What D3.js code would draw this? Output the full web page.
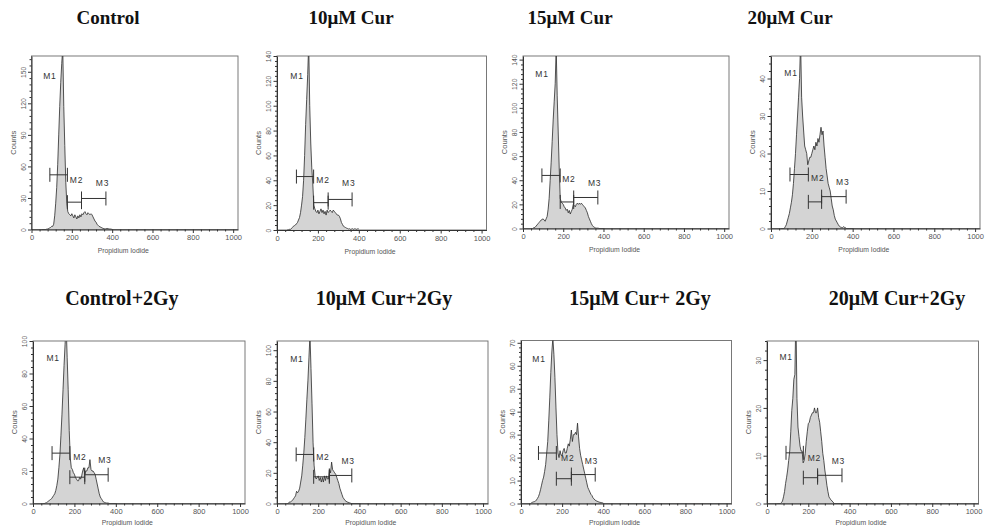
<!DOCTYPE html>
<html>
<head>
<meta charset="utf-8">
<script src="https://cdn.jsdelivr.net/npm/d3@7"></script>
<style>
  body { margin: 0; background: #fff; }
  svg { display: block; }
</style>
</head>
<body>
<svg id="chart" width="986" height="526"></svg>
<script>
// ---- data ----
const panelTitles = ["Control", "10μM Cur", "15μM Cur", "20μM Cur",
  "Control+2Gy", "10μM Cur+2Gy", "15μM Cur+ 2Gy", "20μM Cur+2Gy"];

// propidium iodide channels 50..400, step 5
const channels = d3.range(50, 405, 5);

const countsControl = [
  0, 0, 0, 0, 0, 0.3, 0.5, 1, 1.5, 2,
  3, 3, 5, 13, 25, 40, 62, 90, 117, 140,
  158, 172, 117, 80, 45, 25, 17, 15, 14, 13,
  15, 13, 11, 14, 12, 10, 13, 11, 14, 12,
  15, 14, 16, 17, 15, 14, 16, 15, 14, 15,
  14, 12, 10, 8, 7, 5, 4, 3, 2.5, 2,
  1.5, 1, 0.8, 0.5, 0.8, 1, 0.8, 0.5, 0.5, 0.3,
  0.2
];
const countsCur10 = [
  0, 0, 0.5, 0.5, 1, 2, 3, 3.5, 4, 5,
  6, 8, 10, 14, 20, 27, 40, 60, 85, 105,
  125, 150, 100, 70, 50, 37, 20, 17, 15, 14,
  16, 13, 15, 17, 14, 16, 13, 15, 12, 16,
  14, 15, 16, 15, 14, 16, 15, 14, 13, 12,
  12, 11, 9, 6, 4.5, 3, 2.5, 2, 1.5, 1.2,
  0.8, 1, 0.5, 0.8, 1, 0.5, 1, 0.8, 0.5, 1,
  0.8
];
const countsCur15 = [
  0.5, 0.5, 1, 2, 3, 4, 5, 6, 7, 7.5,
  8, 7, 6, 8, 10, 16, 25, 40, 55, 72,
  90, 105, 120, 150, 110, 80, 50, 25, 22, 21,
  20, 18, 17, 15, 16, 13, 15, 12, 14, 16,
  20, 19, 18, 20, 21, 20, 21, 20, 21, 20,
  19, 18, 17, 15, 13, 10, 8, 6, 4, 2.5,
  1.5, 1, 0.5, 0.3, 0.3, 0.2, 0, 0, 0, 0,
  0
];
const countsCur20 = [
  0, 0, 0, 0, 0.5, 1, 2, 3, 4, 5.5,
  7, 9, 12, 16, 20, 25, 30, 35, 40, 50,
  35, 30, 26, 22, 21, 20, 17, 18, 19, 19,
  20, 21, 22, 21, 23, 22, 24, 23, 25, 27,
  25, 26, 22, 19, 16, 14, 12, 11, 10, 8,
  6, 5, 3.5, 2.5, 2, 1.5, 1, 0.6, 0.4, 0.3,
  0.2, 0.5, 0.3, 0.2, 0, 0, 0, 0, 0, 0,
  0
];
const countsControlGy = [
  0, 0, 0.3, 0.5, 1, 1.5, 2, 2.5, 3, 4,
  5, 6, 8, 11, 15, 22, 30, 42, 55, 70,
  85, 98, 110, 90, 70, 45, 28, 22, 21, 19,
  18, 16, 15, 14, 14, 16, 15, 17, 20, 22,
  18, 20, 20, 22, 22, 27, 21, 20, 20, 19,
  18, 15, 12, 9, 6, 4, 3, 2, 1, 0.7,
  0.5, 0.3, 0.3, 0.2, 0, 0, 0, 0, 0, 0,
  0
];
const countsCur10Gy = [
  0, 0, 1, 1, 1.5, 2, 3, 4, 5, 8,
  7, 8, 10, 14, 18, 25, 33, 43, 55, 68,
  80, 95, 110, 88, 65, 40, 25, 18, 16, 17,
  18, 15, 17, 14, 17, 14, 18, 15, 18, 16,
  16, 22, 20, 27, 22, 21, 20, 19, 17, 15,
  13, 10, 8, 6, 4, 3, 2, 1.5, 1, 0.8,
  0.5, 0.3, 0, 0, 0, 0, 0, 0, 0, 0,
  0
];
const countsCur15Gy = [
  0.3, 0.5, 0.7, 0.8, 1, 1.5, 2.2, 3, 4.3, 6,
  8, 10, 11.5, 14, 17, 22, 27, 36, 46, 57,
  66, 72, 65, 55, 42, 30, 22, 20, 23, 21,
  21, 23, 24, 22, 22, 24, 26, 25, 28, 32,
  27, 30, 30, 31, 30, 35, 29, 24, 21, 19,
  17, 15, 13, 11, 9, 7, 6, 5, 4, 3.5,
  2.5, 2, 1.5, 1.2, 1, 0.8, 0.6, 0.5, 0.4, 0.3,
  0.2
];
const countsCur20Gy = [
  0, 0, 0, 0, 0.2, 0.5, 1.4, 2.5, 4.2, 5.5,
  7, 9, 11, 15, 19.5, 22, 26, 27, 40, 22,
  16, 14, 12, 11, 11, 8.5, 9, 10.5, 13, 15,
  16.7, 17, 18, 18.5, 19, 19, 20, 19, 19, 20,
  18, 17, 15, 13, 10.5, 9, 7, 5.5, 3.8, 2.5,
  1.4, 1, 0.8, 0.5, 0.3, 0, 0, 0, 0, 0,
  0, 0, 0, 0, 0, 0, 0, 0, 0, 0,
  0
];
const countSeries = [countsControl, countsCur10, countsCur15, countsCur20,
  countsControlGy, countsCur10Gy, countsCur15Gy, countsCur20Gy];

const yMaxValues = [165, 140, 143, 46, 100, 106, 71, 34];
const yTickSteps = [30, 20, 20, 10, 20, 20, 10, 10];
const xTickValues = [0, 200, 400, 600, 800, 1000];

// gate markers: [from, to, count level]
const gateNames = ["M1", "M2", "M3"];
const gateRanges = [
  [[91, 178, 52], [178, 248, 26], [248, 369, 29.5]],
  [[95, 179, 43], [179, 250, 22], [250, 367, 24.6]],
  [[94, 185, 44], [185, 252, 22], [252, 372, 25.7]],
  [[93, 183, 14.4], [183, 248, 7.1], [248, 368, 8.5]],
  [[92, 178, 31], [178, 250, 16.2], [250, 363, 17.7]],
  [[93, 178, 32], [178, 254, 17.4], [254, 363, 18.3]],
  [[85, 172, 22], [172, 245, 10.8], [245, 361, 12.6]],
  [[92, 176, 10.6], [176, 245, 5.4], [245, 363, 5.9]]
];
// gate label anchors: [channel, count]
const gateLabelPos = [
  [[58, 146], [190, 47], [319, 44]],
  [[65, 124], [192, 40], [318, 37.5]],
  [[61, 128], [195, 41], [323, 38]],
  [[65, 41.5], [196, 13.4], [319, 12.5]],
  [[65, 89.5], [194, 28.5], [315, 26.5]],
  [[64, 94], [190, 30], [313, 27.8]],
  [[55, 63], [195, 20], [310, 18.5]],
  [[60, 30.7], [197, 9.6], [313, 8.9]]
];

// ---- layout ----
const boxes = [
  { left: 31.5, right: 238, top: 56, bottom: 229.5 },
  { left: 277, right: 486.5, top: 56, bottom: 230 },
  { left: 523, right: 729, top: 56, bottom: 228.5 },
  { left: 771, right: 980, top: 56, bottom: 228.5 },
  { left: 33, right: 245, top: 341, bottom: 503.5 },
  { left: 277, right: 488, top: 341, bottom: 503.5 },
  { left: 521, right: 731.5, top: 340.5, bottom: 503.5 },
  { left: 767, right: 978.5, top: 341, bottom: 503.5 }
];
const titlePos = [[108, 24], [351, 24], [570, 24], [790, 24],
  [122, 305], [384, 305], [640, 305], [897, 305]];

const svg = d3.select("#chart");
const defs = svg.append("defs");
const sans = "'Liberation Sans', Arial, sans-serif";

boxes.forEach((box, i) => {
  const topRow = i < 4;
  const x = d3.scaleLinear().domain([0, 1024]).range([box.left, box.right]);
  const y = d3.scaleLinear().domain([0, yMaxValues[i]]).range([box.bottom, box.top]);
  const bins = channels.map((c, k) => ({ channel: c, count: countSeries[i][k] }));
  const g = svg.append("g");

  defs.append("clipPath").attr("id", `clip-${i}`)
    .append("rect")
    .attr("x", box.left).attr("y", box.top)
    .attr("width", box.right - box.left).attr("height", box.bottom - box.top);

  g.append("rect")
    .attr("x", box.left).attr("y", box.top)
    .attr("width", box.right - box.left).attr("height", box.bottom - box.top)
    .attr("fill", "#fff")
    .attr("stroke", "#6a6a6a")
    .attr("stroke-width", 0.9);

  const plot = g.append("g").attr("clip-path", `url(#clip-${i})`);
  plot.append("path")
    .datum(bins)
    .attr("fill", "#d4d4d4")
    .attr("d", d3.area().x((d) => x(d.channel)).y0(y(0)).y1((d) => y(d.count)));
  plot.append("path")
    .datum(bins)
    .attr("fill", "none")
    .attr("stroke", "#2a2a2a")
    .attr("stroke-width", 0.8)
    .attr("stroke-linejoin", "round")
    .attr("d", d3.line().x((d) => x(d.channel)).y((d) => y(d.count)));

  // gate markers
  const gates = g.append("g").attr("stroke", "#333").attr("stroke-width", 1);
  gateRanges[i].forEach(([from, to, level]) => {
    const yy = y(level);
    gates.append("line").attr("x1", x(from)).attr("x2", x(to)).attr("y1", yy).attr("y2", yy);
    [from, to].forEach((end) => {
      gates.append("line").attr("x1", x(end)).attr("x2", x(end))
        .attr("y1", yy - 7).attr("y2", yy + 7);
    });
  });
  gateLabelPos[i].forEach(([cx, cy], k) => {
    g.append("text")
      .attr("x", x(cx)).attr("y", y(cy))
      .attr("dy", "0.35em")
      .attr("font-family", sans)
      .attr("font-size", 8.5)
      .attr("letter-spacing", 0.8)
      .attr("fill", "#333")
      .text(gateNames[k]);
  });

  // x axis
  const minorX = d3.range(0, 1025, 40).filter((v) => v % 200 !== 0);
  g.append("g")
    .attr("transform", `translate(0,${box.bottom})`)
    .call(d3.axisBottom(x).tickValues(minorX).tickSize(2).tickSizeOuter(0).tickFormat(""))
    .call((a) => a.select(".domain").remove())
    .attr("color", "#333");
  g.append("g")
    .attr("transform", `translate(0,${box.bottom})`)
    .call(d3.axisBottom(x).tickValues(xTickValues).tickSize(3.5).tickSizeOuter(0).tickPadding(2).tickFormat(d3.format("d")))
    .attr("color", "#333")
    .call((a) => a.selectAll("text")
      .attr("font-family", sans)
      .attr("font-size", 7.5)
      .attr("fill", "#555"));

  // y axis
  const step = yTickSteps[i];
  const majorY = d3.range(0, yMaxValues[i] + 0.01, step);
  const minorY = d3.range(0, yMaxValues[i] + 0.01, step / 5).filter((v) => Math.abs(v / step - Math.round(v / step)) > 1e-6);
  g.append("g")
    .attr("transform", `translate(${box.left},0)`)
    .call(d3.axisLeft(y).tickValues(minorY).tickSize(2).tickSizeOuter(0).tickFormat(""))
    .call((a) => a.select(".domain").remove())
    .attr("color", "#333");
  g.append("g")
    .attr("transform", `translate(${box.left},0)`)
    .call(d3.axisLeft(y).tickValues(majorY).tickSize(3.5).tickSizeOuter(0))
    .attr("color", "#333")
    .call((a) => a.selectAll("text")
      .attr("x", 0).attr("dy", 0)
      .attr("text-anchor", "middle")
      .attr("transform", "translate(-6,0) rotate(-90)")
      .attr("font-family", sans)
      .attr("font-size", 6.8)
      .attr("fill", "#555"));

  g.append("text")
    .attr("x", x(455))
    .attr("y", box.bottom + (topRow ? 23.5 : 21))
    .attr("text-anchor", "middle")
    .attr("font-family", sans)
    .attr("font-size", 6.8)
    .attr("fill", "#555")
    .text("Propidium Iodide");
  g.append("text")
    .attr("transform", `translate(${box.left - 16},${(box.top + box.bottom) / 2}) rotate(-90)`)
    .attr("text-anchor", "middle")
    .attr("font-family", sans)
    .attr("font-size", 7.5)
    .attr("fill", "#555")
    .text("Counts");

  svg.append("text")
    .attr("x", titlePos[i][0]).attr("y", titlePos[i][1])
    .attr("text-anchor", "middle")
    .attr("font-family", "'Liberation Serif', 'Times New Roman', serif")
    .attr("font-weight", 700)
    .attr("font-size", topRow ? 19 : 20)
    .attr("fill", "#111")
    .text(panelTitles[i]);
});
</script>
</body>
</html>
